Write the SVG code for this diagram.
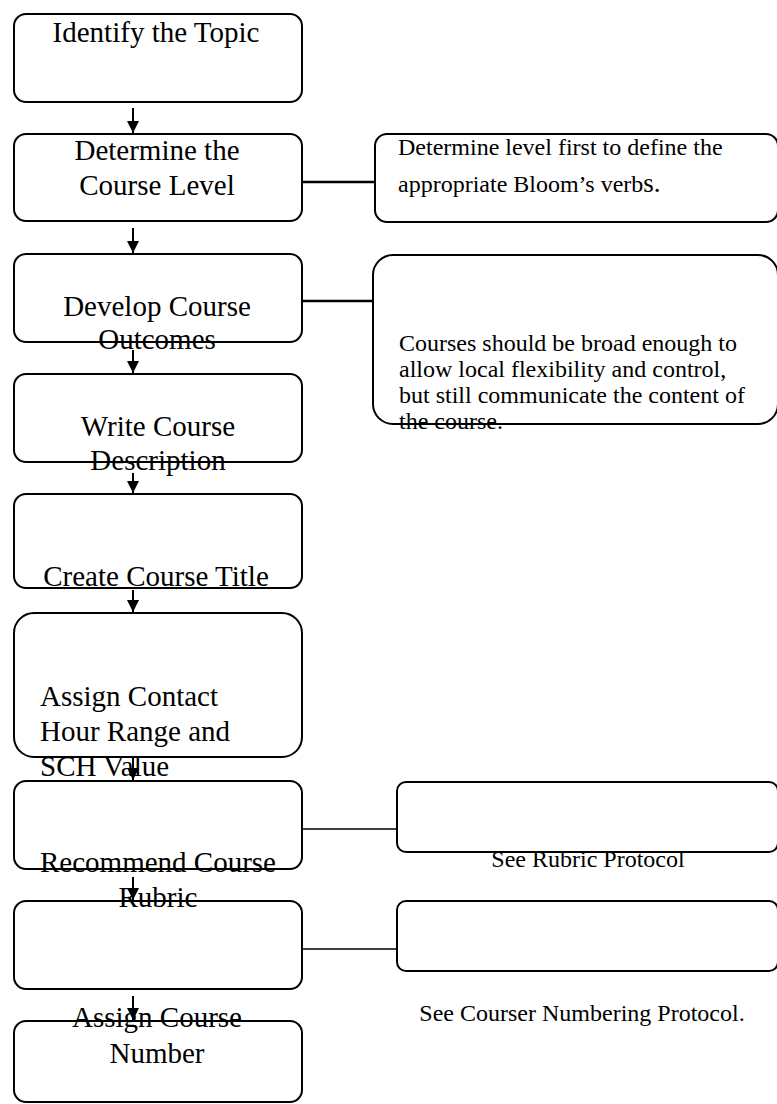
<svg xmlns="http://www.w3.org/2000/svg" width="777" height="1104" viewBox="0 0 777 1104">
<style>
.box{fill:none;stroke:#000;stroke-width:2}
.main{font-family:"Liberation Serif","Times New Roman",serif;font-size:29px;fill:#000}
.note{font-family:"Liberation Serif","Times New Roman",serif;font-size:24px;fill:#000}
.mid{text-anchor:middle}
.conn{stroke:#000;fill:none}
</style>
<defs>
<marker id="ah" viewBox="0 0 12 12" refX="12" refY="6" markerWidth="12" markerHeight="12" markerUnits="userSpaceOnUse" orient="auto">
<path d="M0,0 L12,6 L0,12 z" fill="#000"/>
</marker>
</defs>
<rect width="777" height="1104" fill="#fff"/>
<g id="connectors">
<line class="conn" stroke-width="2" x1="133" y1="108" x2="133" y2="133" marker-end="url(#ah)"/>
<line class="conn" stroke-width="2" x1="133" y1="228" x2="133" y2="253" marker-end="url(#ah)"/>
<line class="conn" stroke-width="2" x1="133" y1="350" x2="133" y2="373" marker-end="url(#ah)"/>
<line class="conn" stroke-width="2" x1="133" y1="473" x2="133" y2="493" marker-end="url(#ah)"/>
<line class="conn" stroke-width="2" x1="133" y1="590" x2="133" y2="612" marker-end="url(#ah)"/>
<line class="conn" stroke-width="2" x1="133" y1="757" x2="133" y2="780" marker-end="url(#ah)"/>
<line class="conn" stroke-width="2" x1="133" y1="877" x2="133" y2="900" marker-end="url(#ah)"/>
<line class="conn" stroke-width="2" x1="133" y1="996" x2="133" y2="1020" marker-end="url(#ah)"/>
<line class="conn" stroke-width="2.5" x1="302" y1="182" x2="375" y2="182"/>
<line class="conn" stroke-width="2.5" x1="302" y1="301" x2="374" y2="301"/>
<line class="conn" stroke-width="1.5" x1="302" y1="829" x2="397" y2="829"/>
<line class="conn" stroke-width="1.5" x1="302" y1="949" x2="397" y2="949"/>
</g>
<g id="n1">
<rect class="box" x="14" y="14" width="288" height="88" rx="12"/>
<text class="main mid" x="156" y="42">Identify the Topic</text>
</g>
<g id="n2">
<rect class="box" x="14" y="134" width="288" height="87" rx="12"/>
<text class="main mid" x="157" y="160">Determine the</text>
<text class="main mid" x="157" y="195">Course Level</text>
</g>
<g id="n3">
<rect class="box" x="14" y="254" width="288" height="88" rx="12"/>
<text class="main mid" x="157" y="316">Develop Course</text>
<text class="main mid" x="157" y="349">Outcomes</text>
</g>
<g id="n4">
<rect class="box" x="14" y="374" width="288" height="88" rx="12"/>
<text class="main mid" x="158" y="436">Write Course</text>
<text class="main mid" x="158" y="470">Description</text>
</g>
<g id="n5">
<rect class="box" x="14" y="494" width="288" height="94" rx="12"/>
<text class="main mid" x="156" y="586">Create Course Title</text>
</g>
<g id="n6">
<rect class="box" x="14" y="613" width="288" height="144" rx="20"/>
<text class="main" x="40" y="706">Assign Contact</text>
<text class="main" x="40" y="741">Hour Range and</text>
<text class="main" x="40" y="776">SCH Value</text>
</g>
<g id="n7">
<rect class="box" x="14" y="781" width="288" height="88" rx="12"/>
<text class="main mid" x="158" y="872">Recommend Course</text>
<text class="main mid" x="158" y="907">Rubric</text>
</g>
<g id="n8">
<rect class="box" x="14" y="901" width="288" height="88" rx="12"/>
</g>
<g id="n9">
<rect class="box" x="14" y="1021" width="288" height="81" rx="12"/>
<text class="main mid" x="157" y="1027">Assign Course</text>
<text class="main mid" x="157" y="1063">Number</text>
</g>
<g id="noteLevel">
<rect class="box" x="375" y="134" width="403" height="88" rx="12"/>
<text class="note" x="398" y="155">Determine level first to define the</text>
<text class="note" x="398" y="192">appropriate Bloom’s verb<tspan font-size="27">s.</tspan></text>
</g>
<g id="noteOutcomes">
<rect class="box" x="373" y="255" width="405" height="169" rx="20"/>
<text class="note" x="399" y="351">Courses should be broad enough to</text>
<text class="note" x="399" y="377">allow local flexibility and control,</text>
<text class="note" x="399" y="403">but still communicate the content of</text>
<text class="note" x="399" y="429">the course.</text>
</g>
<g id="noteRubric">
<rect class="box" x="397" y="782" width="381" height="70" rx="9"/>
<text class="note mid" x="588" y="867">See Rubric Protocol</text>
</g>
<g id="noteNumber">
<rect class="box" x="397" y="901" width="381" height="70" rx="9"/>
<text class="note mid" x="582" y="1021">See Courser Numbering Protocol.</text>
</g>
</svg>
